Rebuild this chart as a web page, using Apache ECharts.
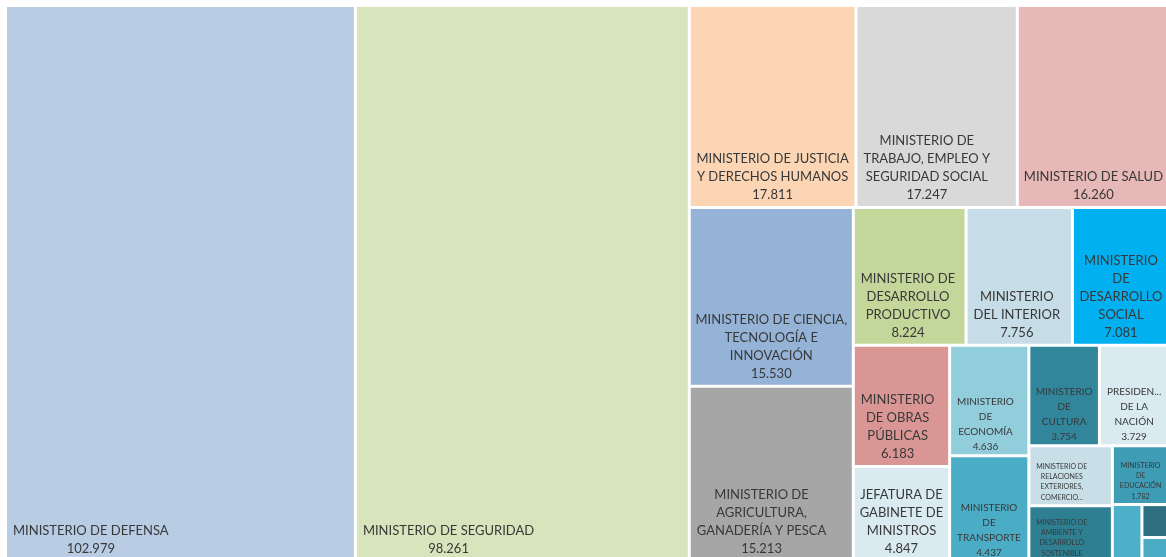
<!DOCTYPE html>
<html>
<head>
<meta charset="utf-8">
<script src="https://cdn.jsdelivr.net/npm/echarts@6/dist/echarts.min.js"></script>
<style>
html,body{margin:0;padding:0;background:#ffffff;}
#chart{width:1166px;height:557px;}
</style>
</head>
<body>
<div id="chart"></div>
<script>
// ---- data ----
const names = [
  'MINISTERIO DE DEFENSA',
  'MINISTERIO DE SEGURIDAD',
  'MINISTERIO DE JUSTICIA Y DERECHOS HUMANOS',
  'MINISTERIO DE TRABAJO, EMPLEO Y SEGURIDAD SOCIAL',
  'MINISTERIO DE SALUD',
  'MINISTERIO DE CIENCIA, TECNOLOGÍA E INNOVACIÓN',
  'MINISTERIO DE AGRICULTURA, GANADERÍA Y PESCA',
  'MINISTERIO DE DESARROLLO PRODUCTIVO',
  'MINISTERIO DEL INTERIOR',
  'MINISTERIO DE DESARROLLO SOCIAL',
  'MINISTERIO DE OBRAS PÚBLICAS',
  'JEFATURA DE GABINETE DE MINISTROS',
  'MINISTERIO DE ECONOMÍA',
  'MINISTERIO DE TRANSPORTE',
  'MINISTERIO DE CULTURA',
  'PRESIDENCIA DE LA NACIÓN',
  'MINISTERIO DE RELACIONES EXTERIORES, COMERCIO INTERNACIONAL Y CULTO',
  'MINISTERIO DE AMBIENTE Y DESARROLLO SOSTENIBLE',
  'MINISTERIO DE EDUCACIÓN',
  'OTRO 1',
  'OTRO 2',
  'OTRO 3'
];
const values = [
  102.979, 98.261, 17.811, 17.247, 16.260, 15.530, 15.213,
  8.224, 7.756, 7.081, 6.183, 4.847, 4.636, 4.437, 3.754, 3.729,
  2.65, 2.47, 1.782, 0.89, 0.48, 0.35
];
// label text as displayed in the chart (value line appended when shown)
const labelTexts = [
  'MINISTERIO DE DEFENSA',
  'MINISTERIO DE SEGURIDAD',
  'MINISTERIO DE JUSTICIA\nY DERECHOS HUMANOS',
  'MINISTERIO DE\nTRABAJO, EMPLEO Y\nSEGURIDAD SOCIAL',
  'MINISTERIO DE SALUD',
  'MINISTERIO DE CIENCIA,\nTECNOLOGÍA E\nINNOVACIÓN',
  'MINISTERIO DE\nAGRICULTURA,\nGANADERÍA Y PESCA',
  'MINISTERIO DE\nDESARROLLO\nPRODUCTIVO',
  'MINISTERIO\nDEL INTERIOR',
  'MINISTERIO\nDE\nDESARROLLO\nSOCIAL',
  'MINISTERIO\nDE OBRAS\nPÚBLICAS',
  'JEFATURA DE\nGABINETE DE\nMINISTROS',
  'MINISTERIO\nDE\nECONOMÍA',
  'MINISTERIO\nDE\nTRANSPORTE',
  'MINISTERIO\nDE\nCULTURA',
  'PRESIDEN...\nDE LA\nNACIÓN',
  'MINISTERIO DE\nRELACIONES\nEXTERIORES,\nCOMERCIO...',
  'MINISTERIO DE\nAMBIENTE Y\nDESARROLLO\nSOSTENIBLE',
  'MINISTERIO\nDE\nEDUCACIÓN',
  '',
  '',
  ''
];
const showValue = [
  true, true, true, true, true, true, true, true, true, true, true,
  true, true, true, true, true, false, false, true, false, false, false
];

// ---- styles ----
const colors = [
  '#B8CCE4', '#D8E4BC', '#FCD5B4', '#D9D9D9', '#E6B8B7', '#95B3D7', '#A6A6A6',
  '#C4D79B', '#C6DCE6', '#00B0F0', '#DA9694', '#DAEAF1', '#92CDDC', '#4BACC6',
  '#31869B', '#DAEAF1', '#C9DFE8', '#2F7F93', '#3E9DB5', '#4DAFC8', '#2E7082', '#4BACC6'
];
const FONT = 'Lato';
const TEXT_COLOR = '#383838';
const tiers = [
  { fontSize: 13, lineHeight: 18, off: -2, pad: 6 },
  { fontSize: 10, lineHeight: 15, off: 0, pad: 6 },
  { fontSize: 7, lineHeight: 10.3, off: -1.5, pad: 6 }
];
function tierOf(v) { return v >= 4.7 ? 0 : (v >= 3 ? 1 : 2); }

const measureCtx = document.createElement('canvas').getContext('2d');
function fullLabel(i) {
  let t = labelTexts[i];
  if (showValue[i]) t += '\n' + values[i].toFixed(3);
  return t;
}
function blockWidth(i) {
  const t = tiers[tierOf(values[i])];
  measureCtx.font = t.fontSize + 'px ' + FONT;
  return Math.max.apply(null, fullLabel(i).split('\n').map(s => measureCtx.measureText(s).width));
}

function buildOption(rectWidths) {
  const data = names.map((n, i) => {
    const t = tiers[tierOf(values[i])];
    const label = {
      show: labelTexts[i] !== '',
      fontSize: t.fontSize,
      lineHeight: t.lineHeight,
      offset: [0, t.off]
    };
    if (rectWidths && rectWidths[n] != null) {
      const w = blockWidth(i);
      label.position = [Math.min(t.pad + w / 2, rectWidths[n] / 2), '100%'];
    }
    return { name: n, value: values[i], itemStyle: { color: colors[i] }, label: label };
  });
  return {
    animation: false,
    backgroundColor: '#ffffff',
    series: [{
      type: 'treemap',
      left: 7,
      top: 7,
      width: 1161,
      height: 553,
      squareRatio: 1,
      roam: false,
      nodeClick: false,
      silent: true,
      visibleMin: 0,
      breadcrumb: { show: false },
      itemStyle: { borderWidth: 0, gapWidth: 3, borderColor: '#ffffff' },
      label: {
        show: true,
        position: 'insideBottomLeft',
        padding: 0,
        distance: 0,
        overflow: 'none',
        align: 'center',
        verticalAlign: 'bottom',
        color: TEXT_COLOR,
        fontFamily: FONT,
        formatter: function (p) {
          const i = names.indexOf(p.name);
          return i < 0 ? '' : fullLabel(i);
        }
      },
      emphasis: { disabled: true },
      data: data
    }]
  };
}

const chart = echarts.init(document.getElementById('chart'), null, { renderer: 'canvas' });
chart.setOption(buildOption(null));
const rectWidths = {};
try {
  const sData = chart.getModel().getSeriesByIndex(0).getData();
  sData.each(function (idx) {
    const l = sData.getItemLayout(idx);
    const nm = sData.getName(idx);
    if (l && nm) rectWidths[nm] = l.width;
  });
} catch (e) {}
chart.setOption(buildOption(rectWidths));
</script>
</body>
</html>
